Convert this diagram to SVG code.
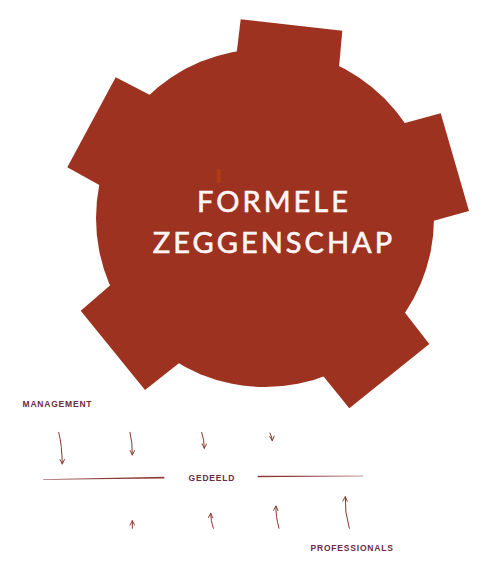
<svg xmlns="http://www.w3.org/2000/svg" width="492" height="582" viewBox="0 0 492 582">
<style>
.gear{fill:#9c321f}
.title{font-family:Lato,"Open Sans",sans-serif;font-size:29px;fill:#fbf6f8;stroke:#fbf6f8;stroke-width:0.6px;letter-spacing:3px;text-anchor:middle}
.lbl{font-family:"Liberation Sans",Arial,sans-serif;font-weight:bold;font-size:8.5px;fill:#6b2d3f;letter-spacing:0.8px}
.arr{fill:none;stroke:#8a3830;stroke-width:1;stroke-linecap:round}
.div{fill:#8c3a34}
</style>
<defs>
<marker id="ah" viewBox="0 0 10 10" refX="9" refY="5" markerWidth="6" markerHeight="6" orient="auto" markerUnits="userSpaceOnUse">
<path d="M1,1 L9,5 L1,9" fill="none" stroke="#8a3830" stroke-width="1.6"/>
</marker>
</defs>
<g id="gear">
<circle class="gear" cx="265" cy="218" r="169"/>
<polygon class="gear" points="240.7,19.3 342.3,30.7 332.4,140.5 228.7,119.5"/>
<polygon class="gear" points="440.7,113.3 469,211 364,240.1 330.6,143.3"/>
<polygon class="gear" points="115.7,77.3 218.6,130.4 163.3,220.4 67.3,167.3"/>
<polygon class="gear" points="80.7,310.7 166.5,236.6 240.1,315 145,390"/>
<polygon class="gear" points="429.3,344 359.4,254 276.4,318.3 349.3,408.3"/>
<rect x="217" y="169" width="3.5" height="14" fill="#b23c12"/>
<text class="title" x="274" y="212">FORMELE</text>
<text class="title" x="274" y="253">ZEGGENSCHAP</text>
</g>
<g id="management"><text class="lbl" x="22.5" y="406.7">MANAGEMENT</text></g>
<g id="gedeeld"><text class="lbl" x="188.5" y="480.7">GEDEELD</text></g>
<g id="professionals"><text class="lbl" x="310.5" y="550.7">PROFESSIONALS</text></g>
<g id="connectors">
<path class="arr" marker-end="url(#ah)" d="M58.7,432.3 Q62,445 62.3,464"/>
<path class="arr" marker-end="url(#ah)" d="M130,432.3 Q132.5,442 132.3,455"/>
<path class="arr" marker-end="url(#ah)" d="M201.7,432.3 Q204.3,440 204.3,448.3"/>
<path class="arr" marker-end="url(#ah)" d="M270,433 Q272,437 272.3,440.7"/>
<path class="arr" marker-end="url(#ah)" d="M132.3,528.3 L132.3,520.7"/>
<path class="arr" marker-end="url(#ah)" d="M213.3,528.3 Q210.5,520 210.7,513.3"/>
<path class="arr" marker-end="url(#ah)" d="M279,528.3 Q275.5,516 276,506"/>
<path class="arr" marker-end="url(#ah)" d="M349.3,528.3 Q344.5,512 345.3,496.7"/>
<polygon class="div" points="43,479.2 164.3,476.8 164.3,478.6 43,479.7"/>
<polygon class="div" points="257.7,475.8 363.3,475.7 363.3,476.3 257.7,477.3"/>
</g>
</svg>
